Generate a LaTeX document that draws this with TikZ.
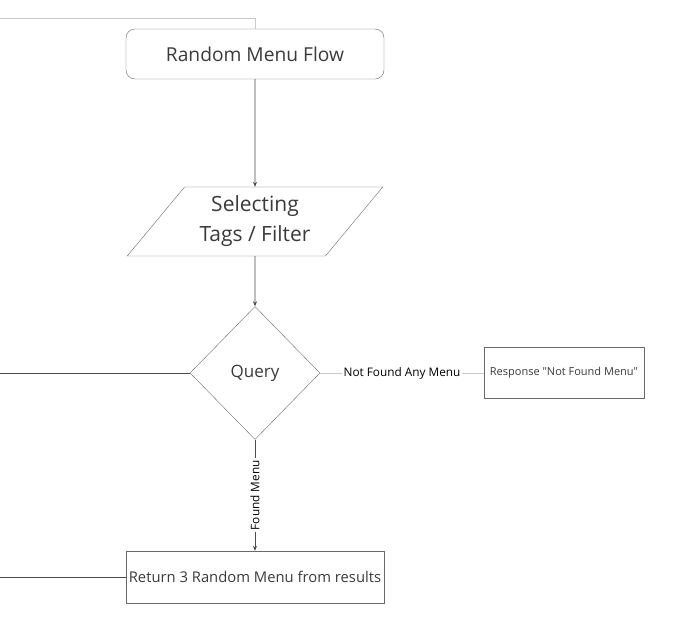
\documentclass[tikz,border=0pt]{standalone}
\usepackage{fontspec}
\setmainfont{Open Sans}
\usepackage{tikz}
\usepackage{xcolor}
\usetikzlibrary{shapes.geometric,arrows.meta}

\definecolor{boxline}{HTML}{6A6A6A}
\definecolor{wireline}{HTML}{4A4A4A}
\definecolor{paleline}{HTML}{C8C8C8}
\definecolor{txtgray}{HTML}{3A3A3A}

\tikzset{
  flowbox/.style={rectangle, draw=boxline, text=txtgray, inner sep=2pt},
  wire/.style={draw=wireline, line width=0.6pt},
  arrowwire/.style={wire, -{Stealth[length=5pt,width=4pt]}},
  edgelabel/.style={fill=white, text=black, font=\fontsize{11.8}{13}\selectfont, inner sep=2pt}
}

\begin{document}
\begin{tikzpicture}[x=1pt, y=-1pt]
\useasboundingbox (0,0) rectangle (678,622);

\node[flowbox, rounded corners=9pt, minimum width=258pt, minimum height=50pt,
  font=\fontsize{19.2}{22}\selectfont] (title) at (255,54) {Random Menu Flow};

\node[draw=boxline, text=txtgray, trapezium, trapezium left angle=48.5, trapezium right angle=131.5,
  trapezium stretches=true, minimum width=256pt, minimum height=69pt, inner sep=0pt, align=center,
  font=\fontsize{21}{30}\selectfont] (filter) at (255,221.5) {Selecting\\Tags / Filter};

\node[draw=boxline, text=txtgray, diamond, minimum width=130pt, minimum height=133pt, inner sep=0pt,
  font=\fontsize{17}{20}\selectfont] (query) at (255,373) {Query};

\node[flowbox, minimum width=160pt, minimum height=51pt,
  font=\fontsize{11}{13}\selectfont\addfontfeature{Ligatures=TeXOff}] (notfound) at (564,373) {Response "Not Found Menu"};

\node[flowbox, minimum width=258pt, minimum height=52pt,
  font=\fontsize{14.8}{17}\selectfont] (result) at (255,577) {Return 3 Random Menu from results};

% free ends on the left edge
\coordinate (topleft) at (0,18);
\coordinate (topcorner) at (255,18);
\coordinate (queryleft) at (0,373);
\coordinate (resultleft) at (0,577);

\draw[draw=paleline, line width=0.6pt] (topleft) -- (topcorner) -- (title.north);
\draw[arrowwire] (title.south) -- (filter.north);
\draw[arrowwire] (filter.south) -- (query.north);
\draw[wire] (query.west) -- (queryleft);
\draw[wire] (result.west) -- (resultleft);

\draw[draw=paleline, line width=0.6pt] (query.east) -- node[edgelabel] {Not Found Any Menu} (notfound.west);
\draw[arrowwire] (query.south) -- node[edgelabel, rotate=90] {Found Menu} (result.north);
\end{tikzpicture}
\end{document}
